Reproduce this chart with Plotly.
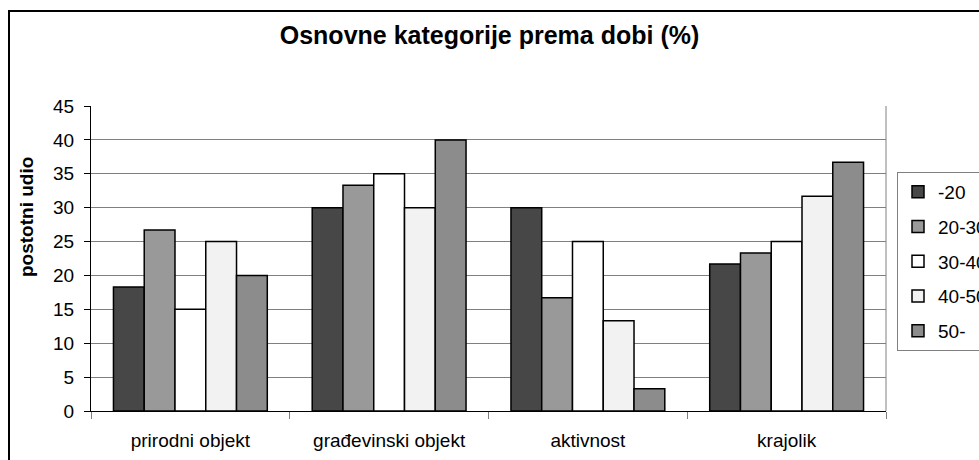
import plotly.graph_objects as go

categories = ["prirodni objekt", "građevinski objekt", "aktivnost", "krajolik"]
series_names = ["-20", "20-30", "30-40", "40-50", "50-"]
v_m20 = [18.3, 30.0, 30.0, 21.7]
v_20_30 = [26.7, 33.3, 16.7, 23.3]
v_30_40 = [15.0, 35.0, 25.0, 25.0]
v_40_50 = [25.0, 30.0, 13.3, 31.7]
v_50p = [20.0, 40.0, 3.3, 36.7]
series_values = [v_m20, v_20_30, v_30_40, v_40_50, v_50p]
colors = ["#474747", "#999999", "#ffffff", "#f2f2f2", "#8c8c8c"]
y_ticks = [0, 5, 10, 15, 20, 25, 30, 35, 40, 45]

FONT = "Liberation Sans, Arial, sans-serif"

fig = go.Figure()
for i, (name, vals, col) in enumerate(zip(series_names, series_values, colors)):
    fig.add_trace(go.Bar(
        x=categories, y=vals, name=name,
        marker=dict(color=col, line=dict(color="#000000", width=1.5)),
        legendgroup=f"g{i}",
    ))

W, H = 979, 460
ml, mr, mt, mb = 91, 93, 106, 49
pw = W - ml - mr
ph = H - mt - mb

fig.update_layout(
    width=W, height=H,
    margin=dict(l=ml, r=mr, t=mt, b=mb, pad=0, autoexpand=False),
    paper_bgcolor="white", plot_bgcolor="white",
    barmode="group", bargap=0.226, bargroupgap=0,
    font=dict(family=FONT, size=19, color="#000000"),
    title=dict(text="<b>Osnovne kategorije prema dobi (%)</b>",
               x=0.5, xanchor="center", xref="container",
               y=1 - 35 / H, yanchor="middle", yref="container",
               font=dict(family=FONT, size=25, color="#000000")),
    showlegend=True,
    legend=dict(xref="container", yref="container",
                x=897 / W, xanchor="left",
                y=1 - 172 / H, yanchor="top",
                bordercolor="#808080", borderwidth=1, bgcolor="white",
                font=dict(family=FONT, size=19, color="#000000"),
                tracegroupgap=7, traceorder="grouped",
                itemwidth=30),
    xaxis=dict(
        type="category", showgrid=False, automargin=False,
        showline=True, linecolor="#000000", linewidth=1,
        ticks="outside", tickson="boundaries", ticklen=7, tickcolor="#808080",
        ticklabelstandoff=12,
        tickfont=dict(family=FONT, size=19, color="#000000"),
    ),
    yaxis=dict(
        range=[0, 45], tickvals=y_ticks, automargin=False,
        showgrid=True, gridcolor="#808080", gridwidth=1,
        showline=True, linecolor="#000000", linewidth=1,
        ticks="outside", ticklen=6, tickcolor="#000000",
        ticklabelstandoff=6,
        tickfont=dict(family=FONT, size=19, color="#000000"),
        zeroline=False,
    ),
    annotations=[
        dict(text="<b>postotni udio</b>", xref="paper", yref="paper",
             x=(26 - ml) / pw, y=(H - mb - 217) / ph,
             xanchor="center", yanchor="middle", textangle=-90,
             showarrow=False,
             font=dict(family=FONT, size=19, color="#000000")),
    ],
    shapes=[
        # right border of plot area
        dict(type="line", xref="paper", yref="paper", x0=1, x1=1, y0=0, y1=1,
             line=dict(color="#808080", width=1)),
        # outer chart border (cropped)
        dict(type="rect", xref="paper", yref="paper",
             x0=(9 - ml) / pw, x1=(W + 20 - ml) / pw,
             y0=(H - mb - (H + 20)) / ph, y1=(H - mb - 11) / ph,
             line=dict(color="#000000", width=2), layer="below"),
    ],
)

fig.write_html("out.html", config={"displayModeBar": False},
               post_script="document.body.style.margin='0';")
